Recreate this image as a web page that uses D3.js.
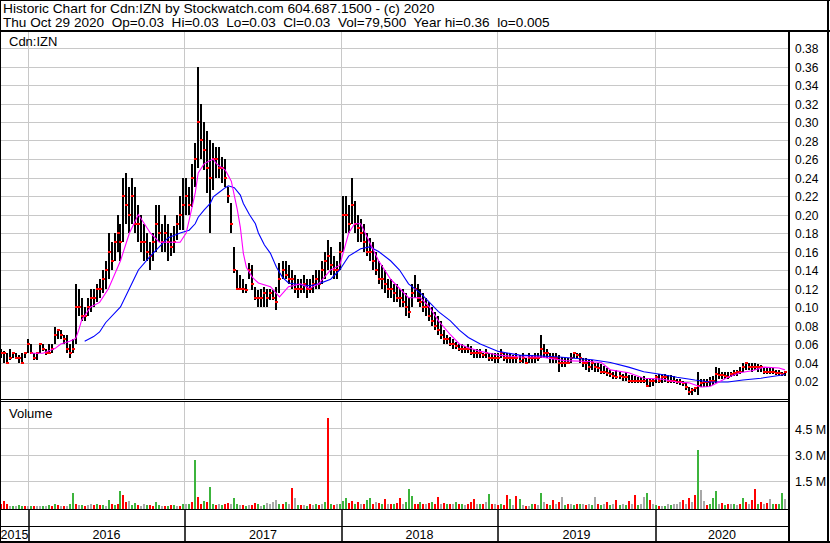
<!DOCTYPE html>
<html><head><meta charset="utf-8">
<script src="https://cdn.jsdelivr.net/npm/d3@7/dist/d3.min.js"></script>
<style>
body{margin:0;background:#fff}
svg{display:block}
text{font-family:"Liberation Sans",Arial,sans-serif;fill:#000}
</style>
</head><body><svg id="c" width="830" height="543"></svg>
<script>
// ---------- DATA ----------
const headerLine1 = "Historic Chart for Cdn:IZN by Stockwatch.com 604.687.1500 - (c) 2020";
const headerLine2 = "Thu Oct 29 2020  Op=0.03  Hi=0.03  Lo=0.03  Cl=0.03  Vol=79,500  Year hi=0.36  lo=0.005";
const symbolLabel = "Cdn:IZN";
const volumeLabel = "Volume";
const firstBarDate = "2015-10-30"; // weekly bars
const years = ["2015","2016","2017","2018","2019","2020"];
const yearStarts = ["2016-01-01","2017-01-01","2018-01-01","2019-01-01","2020-01-01"];
const priceTicks = [0.02,0.04,0.06,0.08,0.10,0.12,0.14,0.16,0.18,0.20,0.22,0.24,0.26,0.28,0.30,0.32,0.34,0.36,0.38];
const volTicks = [1500000,3000000,4500000];
const volTickLabels = ["1.5 M","3.0 M","4.5 M"];

const high = [
.055,.052,.05,.055,.05,.05,.048,.05,.05,.065,
.06,.05,.05,.06,.06,.055,.06,.06,.078,.075,
.075,.07,.07,.06,.065,.125,.12,.11,.10,.11,
.12,.12,.125,.13,.14,.15,.18,.17,.18,.20,
.19,.24,.245,.23,.24,.23,.21,.20,.19,.18,
.17,.18,.21,.21,.19,.20,.19,.18,.188,.20,
.22,.24,.24,.23,.255,.277,.36,.32,.30,.29,
.28,.277,.273,.273,.262,.26,.23,.212,.165,.14,
.135,.13,.125,.148,.145,.122,.118,.12,.122,.12,
.12,.118,.122,.148,.15,.15,.145,.14,.135,.13,
.13,.135,.13,.13,.135,.14,.14,.15,.16,.172,
.165,.155,.15,.17,.22,.22,.21,.24,.215,.20,
.195,.19,.18,.175,.17,.16,.15,.145,.14,.13,
.13,.125,.125,.12,.12,.115,.11,.125,.135,.125,
.12,.115,.11,.105,.10,.095,.09,.085,.075,.07,
.068,.065,.062,.06,.06,.058,.06,.058,.055,.055,
.055,.05,.055,.05,.05,.05,.05,.055,.05,.05,
.05,.048,.05,.048,.05,.045,.05,.048,.05,.05,
.07,.06,.055,.05,.05,.05,.048,.046,.045,.045,
.05,.05,.05,.05,.045,.045,.043,.043,.04,.04,
.038,.036,.034,.032,.03,.032,.03,.028,.03,.026,
.026,.025,.024,.024,.025,.022,.022,.022,.026,.028,
.028,.028,.026,.026,.025,.022,.022,.02,.018,.014,
.012,.014,.03,.022,.022,.022,.024,.025,.035,.034,
.03,.03,.03,.03,.032,.032,.035,.04,.04,.04,
.04,.04,.038,.037,.035,.035,.035,.034,.032,.032,
.03,.03];
const low = [
.045,.04,.04,.043,.045,.045,.04,.04,.045,.05,
.05,.043,.043,.05,.052,.048,.05,.05,.06,.065,
.065,.06,.05,.045,.05,.06,.09,.085,.085,.09,
.095,.10,.105,.11,.115,.12,.13,.14,.15,.16,
.15,.17,.19,.18,.19,.18,.17,.16,.15,.15,
.14,.15,.16,.17,.16,.16,.15,.155,.158,.172,
.183,.183,.20,.20,.208,.23,.25,.26,.248,.223,
.18,.226,.24,.24,.234,.23,.212,.18,.137,.118,
.118,.115,.115,.13,.118,.108,.10,.10,.10,.10,
.108,.108,.097,.115,.13,.13,.125,.12,.115,.11,
.115,.115,.11,.115,.115,.12,.12,.125,.13,.14,
.135,.13,.13,.14,.16,.18,.18,.19,.18,.17,
.17,.16,.155,.15,.14,.135,.125,.12,.115,.11,
.11,.105,.105,.10,.10,.09,.088,.10,.11,.105,
.10,.095,.09,.085,.08,.075,.07,.065,.06,.06,
.058,.055,.055,.052,.05,.05,.05,.048,.045,.045,
.045,.045,.045,.042,.042,.04,.04,.045,.042,.04,
.04,.04,.04,.04,.04,.038,.04,.04,.04,.042,
.045,.045,.045,.04,.04,.04,.03,.035,.035,.038,
.04,.045,.045,.04,.035,.032,.03,.032,.03,.03,
.028,.028,.025,.024,.022,.022,.022,.02,.02,.018,
.018,.018,.018,.018,.018,.014,.014,.015,.018,.018,
.018,.019,.018,.018,.018,.017,.016,.015,.01,.005,
.005,.008,.005,.013,.013,.014,.015,.016,.018,.022,
.022,.022,.022,.024,.025,.025,.028,.03,.032,.032,
.03,.032,.03,.03,.028,.028,.028,.028,.026,.026,
.025,.025];
const close = [
.05,.05,.04,.045,.05,.045,.045,.04,.05,.06,
.05,.045,.05,.06,.055,.05,.05,.055,.07,.075,
.07,.065,.055,.05,.055,.10,.10,.09,.09,.10,
.11,.11,.12,.12,.13,.14,.16,.15,.17,.18,
.17,.22,.21,.20,.22,.19,.19,.17,.17,.16,
.155,.17,.19,.18,.17,.18,.17,.165,.17,.19,
.20,.21,.22,.21,.24,.26,.30,.28,.27,.25,
.24,.26,.26,.25,.25,.24,.22,.19,.14,.12,
.12,.12,.118,.14,.125,.11,.11,.11,.115,.11,
.115,.11,.105,.13,.14,.135,.13,.13,.12,.12,
.12,.125,.12,.12,.125,.13,.125,.14,.15,.155,
.145,.14,.14,.16,.20,.20,.19,.21,.19,.185,
.18,.17,.16,.16,.15,.14,.13,.13,.125,.12,
.12,.115,.11,.11,.105,.10,.095,.115,.12,.11,
.105,.10,.10,.09,.085,.08,.075,.07,.065,.065,
.06,.06,.058,.055,.055,.055,.055,.05,.05,.05,
.05,.048,.05,.045,.045,.045,.045,.05,.045,.045,
.045,.045,.045,.042,.045,.04,.045,.045,.045,.045,
.055,.05,.05,.045,.045,.045,.04,.04,.04,.04,
.045,.05,.048,.045,.04,.04,.035,.04,.035,.034,
.03,.03,.029,.028,.025,.024,.025,.024,.024,.02,
.02,.02,.02,.02,.02,.015,.02,.02,.024,.02,
.024,.024,.02,.02,.02,.019,.019,.018,.013,.008,
.01,.012,.015,.018,.019,.019,.02,.02,.028,.027,
.026,.025,.024,.028,.029,.03,.03,.035,.04,.035,
.035,.035,.035,.035,.03,.03,.03,.03,.029,.029,
.028,.03];
// volume in thousands of shares (per bar)
const volumeK = [
150,340,170,60,40,50,100,80,50,60,
40,50,30,60,40,80,100,60,170,90,
60,80,60,170,820,180,90,110,60,120,
150,90,170,120,90,60,400,150,120,200,
910,690,300,360,120,250,100,80,150,110,
90,80,300,120,60,80,50,100,120,60,
60,150,200,200,300,2700,570,200,330,300,
1140,200,120,180,100,170,230,150,510,150,
90,100,80,100,90,230,150,60,120,230,
200,300,380,170,200,300,150,1090,500,100,
90,120,80,150,100,200,100,150,300,5090,
200,100,150,200,350,500,250,350,200,300,
150,200,400,500,200,300,250,200,450,150,
200,150,250,500,200,300,1050,650,200,150,
300,200,150,250,300,200,550,200,250,150,
200,150,300,150,200,100,200,300,450,200,
150,200,300,750,200,150,100,150,100,690,
460,100,630,460,100,80,60,150,200,100,
820,300,150,100,400,150,300,600,100,150,
200,100,150,200,150,100,150,100,600,150,
100,150,300,100,150,400,100,150,100,350,
150,690,100,150,600,800,400,150,100,50,
80,60,150,120,200,150,300,400,200,510,
300,690,3260,970,350,100,150,500,910,200,
250,100,200,150,200,100,200,510,300,150,
400,1030,200,300,150,250,430,150,200,200,
800,450];
// volume bar colour: g = up day, r = down day, n = unchanged
const volumeDir = [
"rrrngnggrn","grnngngrgr","nrnggrngrn","nrgrgngrgr","grrnggrnng",
"rrggnrgrgn","rgngrgrrgr","ggrngrrngg","nrgnrrgngn","nnngrgnrng",
"rngrngrngr","grngggrrgr","nrggrnrgrn","rgrrngggrr","grnrgrrnrg",
"rngrgnrrrn","grngrnrgrr","gnrgnrngrn","gnrgrnrngr","ngrgnrngnr",
"gnrgnrgngr","nrgnngrngr","ngngnnnrnr","nrgnnrgggn","rgrngnrgrn",
"rrgrnrngrg","gn"].join("").split("");

// moving averages: [week index, value]
const maFastWeeks = [10,14,18,20,23,25,26,27,30,33,36,40,43,46,50,53,56,60,62,63,65,66,68,71,72,75,77,79,80,81,82,84,86,90,93,96,100,103,106,110,113,116,118,120,123,126,130,133,136,140,143,146,150,153,156,160,163,166,173,180,188,196,200,203,209,214,220,225,229,233,236,239,242,246,250,254,259,261];
const maFastVals  = [.05,.05,.055,.06,.063,.066,.075,.086,.10,.105,.12,.15,.18,.20,.18,.17,.17,.17,.18,.194,.223,.245,.255,.26,.255,.248,.236,.205,.186,.158,.143,.132,.126,.122,.111,.122,.125,.12,.125,.14,.145,.18,.19,.19,.17,.15,.13,.12,.11,.11,.10,.085,.07,.06,.056,.052,.05,.048,.046,.046,.042,.041,.04,.032,.029,.023,.022,.019,.018,.0135,.014,.019,.024,.029,.031,.035,.034,.032];
const maSlowWeeks = [28,31,33,35,40,43,46,50,53,56,60,63,65,66,68,70,71,73,75,76,78,80,81,83,85,86,88,90,92,94,96,100,103,106,110,113,116,120,123,126,130,133,136,140,143,146,150,153,156,160,163,166,173,180,186,197,203,209,214,220,225,231,236,242,247,253,259,261];
const maSlowVals  = [.063,.068,.073,.083,.10,.12,.14,.155,.165,.175,.18,.183,.19,.197,.205,.212,.219,.224,.229,.231,.229,.221,.212,.20,.19,.18,.167,.158,.143,.132,.126,.124,.123,.125,.13,.14,.155,.163,.165,.16,.15,.14,.125,.115,.105,.095,.085,.075,.067,.06,.056,.052,.048,.047,.046,.043,.04,.035,.03,.027,.024,.021,.019,.019,.021,.023,.026,.027];

// ---------- LAYOUT ----------
const svg = d3.select("#c");
const W = 830, H = 543;
const plotR = 788;
const priceTop = 32, priceBot = 399;
const volTop = 402, volBot = 509;

const parse = d3.timeParse("%Y-%m-%d");
const start = parse(firstBarDate);
const dates = close.map((_, i) => d3.timeDay.offset(start, 7 * i));
const x = d3.scaleTime()
  .domain([parse("2015-10-28")].concat(yearStarts.map(parse), [parse("2020-11-06")]))
  .range([0, 28, 184, 341, 497, 655, plotR]);
const y = d3.scaleLinear().domain([0, 0.4]).range([399.5, 29.5]);
const yv = d3.scaleLinear().domain([0, 6000000]).range([507, 402]);

const GRID = "#c8c8c8";
svg.append("rect").attr("width", W).attr("height", H).attr("fill", "#fff");

const defs = svg.append("defs");
defs.append("clipPath").attr("id", "cp").append("rect").attr("x", 1).attr("y", priceTop).attr("width", plotR - 1).attr("height", priceBot - priceTop);
defs.append("clipPath").attr("id", "cv").append("rect").attr("x", 1).attr("y", volTop).attr("width", plotR - 1).attr("height", volBot - volTop);

// ---- price grid ----
const gP = svg.append("g").attr("clip-path", "url(#cp)");
gP.selectAll("line.h").data(priceTicks).join("line")
  .attr("x1", 0).attr("x2", plotR)
  .attr("y1", d => Math.round(y(d)) + 0.5).attr("y2", d => Math.round(y(d)) + 0.5)
  .attr("stroke", GRID);
gP.selectAll("line.v").data(yearStarts).join("line")
  .attr("x1", d => Math.round(x(parse(d))) + 0.5).attr("x2", d => Math.round(x(parse(d))) + 0.5)
  .attr("y1", priceTop).attr("y2", priceBot).attr("stroke", GRID);

// bars
gP.selectAll("rect.bar").data(close).join("rect")
  .attr("x", (d, i) => Math.round(x(dates[i])) - 1)
  .attr("width", 2)
  .attr("y", (d, i) => Math.round(y(high[i])))
  .attr("height", (d, i) => Math.max(1, Math.round(y(low[i])) - Math.round(y(high[i]))))
  .attr("fill", "#000");
gP.selectAll("rect.cl").data(close).join("rect")
  .attr("x", (d, i) => Math.round(x(dates[i])) - 1)
  .attr("width", 3)
  .attr("y", d => Math.round(y(d)) - 1)
  .attr("height", 2)
  .attr("fill", "#ff0000");

// moving averages
const lineFn = d3.line().x(d => x(dates[d[0]])).y(d => y(d[1]));
gP.append("path").datum(maSlowWeeks.map((w, i) => [w, maSlowVals[i]]))
  .attr("d", lineFn).attr("fill", "none").attr("stroke", "#0000ff").attr("stroke-width", 1.1);
gP.append("path").datum(maFastWeeks.map((w, i) => [w, maFastVals[i]]))
  .attr("d", lineFn).attr("fill", "none").attr("stroke", "#ff00ff").attr("stroke-width", 1.1);

// ---- volume panel ----
const gV = svg.append("g").attr("clip-path", "url(#cv)");
gV.selectAll("line.h").data(volTicks).join("line")
  .attr("x1", 0).attr("x2", plotR)
  .attr("y1", d => Math.round(yv(d)) + 0.5).attr("y2", d => Math.round(yv(d)) + 0.5)
  .attr("stroke", GRID);
gV.selectAll("line.v").data(yearStarts).join("line")
  .attr("x1", d => Math.round(x(parse(d))) + 0.5).attr("x2", d => Math.round(x(parse(d))) + 0.5)
  .attr("y1", volTop).attr("y2", volBot).attr("stroke", GRID);
const vcol = {g: "#3cb43c", r: "#ff0000", n: "#a8a8a8"};
gV.selectAll("rect.vb").data(volumeK).join("rect")
  .attr("x", (d, i) => Math.round(x(dates[i])) - 1)
  .attr("width", 2)
  .attr("y", d => Math.round(yv(d * 1000)))
  .attr("height", d => Math.max(1, 509 - Math.round(yv(d * 1000))))
  .attr("fill", (d, i) => vcol[volumeDir[i]] || vcol.n);

// ---- right axes ----
const axP = d3.axisRight(y).tickValues(priceTicks).tickSize(0).tickPadding(0).tickFormat(d3.format(".2f"));
svg.append("g").attr("transform", "translate(795,0.5)").call(axP)
  .call(g => g.select(".domain").remove())
  .selectAll("text").attr("font-size", 12).attr("font-family", "Liberation Sans, Arial, sans-serif").attr("fill", "#000").attr("dy", "0.36em").attr("x", 0);
const axV = d3.axisRight(yv).tickValues(volTicks).tickSize(0).tickPadding(0).tickFormat((d, i) => volTickLabels[i]);
svg.append("g").attr("transform", "translate(795,0.5)").call(axV)
  .call(g => g.select(".domain").remove())
  .selectAll("text").attr("font-size", 12.5).attr("font-family", "Liberation Sans, Arial, sans-serif").attr("fill", "#000").attr("dy", "0.36em").attr("x", 0);

// ---- bottom time axis ----
const axT = d3.axisBottom(x).tickValues(yearStarts.map(parse)).tickSize(31).tickFormat("");
svg.append("g").attr("transform", "translate(0.5,510)").call(axT)
  .call(g => g.select(".domain").remove())
  .selectAll("line").attr("stroke", "#000").attr("stroke-width", 1.5);
const bounds = [0].concat(yearStarts.map(d => x(parse(d))), [plotR]);
svg.selectAll("text.yr").data(years).join("text")
  .attr("x", (d, i) => (bounds[i] + bounds[i + 1]) / 2 + 0.5)
  .attr("y", 539).attr("text-anchor", "middle").attr("font-size", 12.5)
  .text(d => d);

// ---- frame lines ----
const L = (x1, y1, x2, y2, w) => svg.append("line").attr("x1", x1).attr("y1", y1).attr("x2", x2).attr("y2", y2).attr("stroke", "#000").attr("stroke-width", w || 1);
L(0, 0.5, W, 0.5);           // top
L(0.5, 0, 0.5, H);           // left
L(828, 0, 828, H, 2);        // right
L(0, 31, W, 31, 2);          // header bottom
L(789, 31, 789, H, 2);       // axis divider
L(0, 399.5, plotR, 399.5);
L(0, 401.5, plotR, 401.5);
L(0, 509.5, plotR, 509.5);
L(0, 526.5, plotR, 526.5);
L(0, 542, W, 542, 2);        // bottom

// ---- texts (header slightly widened like the original's screen font) ----
function headerText(str, baseY, sx) {
  svg.append("text").attr("x", 0).attr("y", 0).attr("font-size", 13)
    .attr("xml:space", "preserve").style("white-space", "pre")
    .attr("transform", `translate(3,${baseY}) scale(${sx},1)`).text(str);
}
headerText(headerLine1, 13, 1.06);
headerText(headerLine2, 27, 1.045);
svg.append("text").attr("x", 9).attr("y", 46).attr("font-size", 13).text(symbolLabel);
svg.append("text").attr("x", 9).attr("y", 418).attr("font-size", 13).text(volumeLabel);
</script>
</body></html>
